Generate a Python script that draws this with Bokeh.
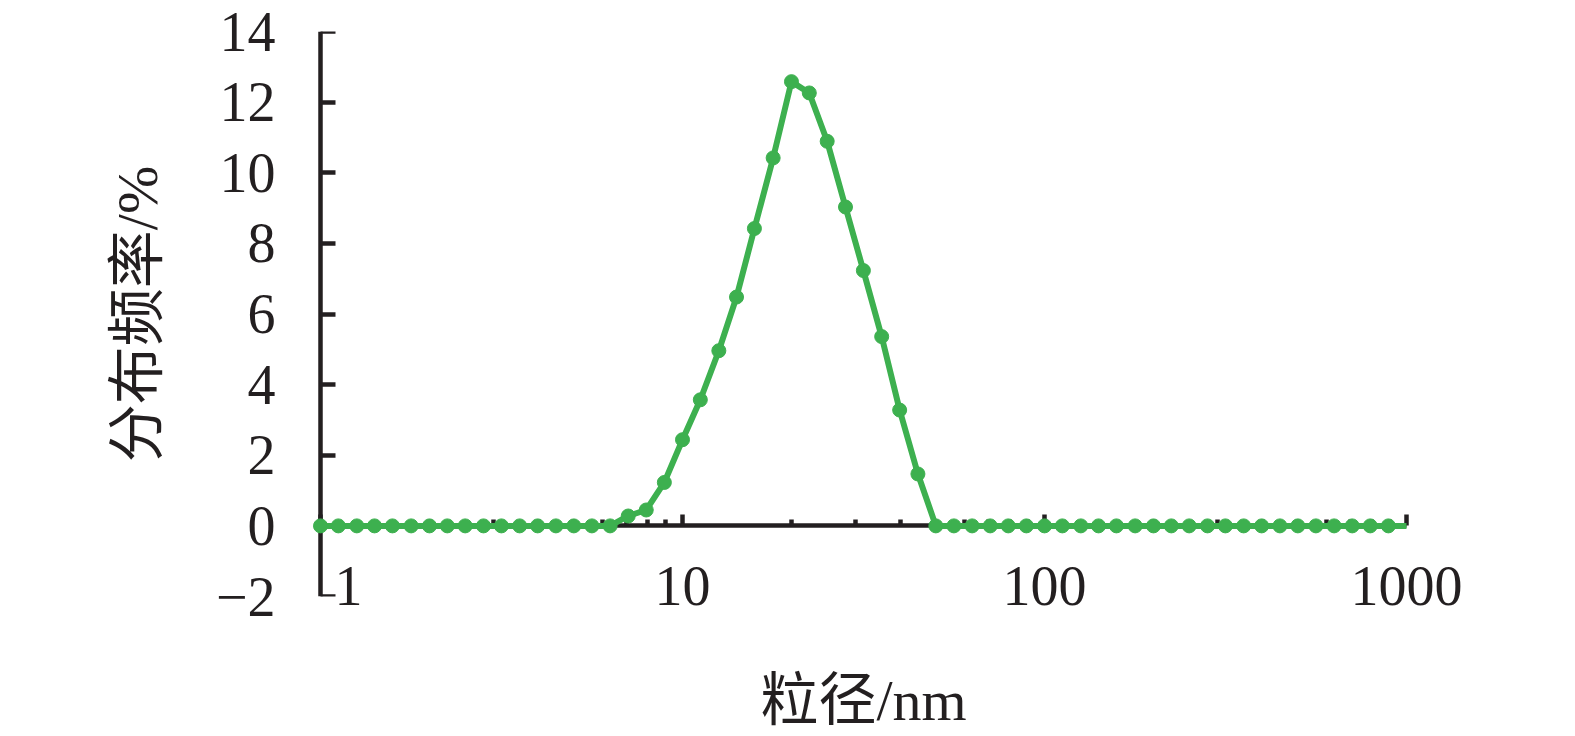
from bokeh.plotting import figure
from bokeh.models import LogAxis, LinearAxis, FixedTicker, Range1d, PrintfTickFormatter
from bokeh.embed import file_html
from bokeh.resources import INLINE

# particle size (nm), log-spaced bins
sizes = [1.00, 1.12, 1.26, 1.41, 1.58, 1.78, 2.00, 2.24, 2.51, 2.82,
         3.16, 3.55, 3.98, 4.47, 5.01, 5.62, 6.31, 7.08, 7.94, 8.91,
         10.0, 11.2, 12.6, 14.1, 15.8, 17.8, 20.0, 22.4, 25.1, 28.2,
         31.6, 35.5, 39.8, 44.7, 50.1, 56.2, 63.1, 70.8, 79.4, 89.1,
         100, 112, 126, 141, 158, 178, 200, 224, 251, 282,
         316, 355, 398, 447, 501, 562, 631, 708, 794, 891, 1000]
# distribution frequency (%)
freq = [0, 0, 0, 0, 0, 0, 0, 0, 0, 0,
        0, 0, 0, 0, 0, 0, 0, 0.28, 0.45, 1.23,
        2.44, 3.57, 4.96, 6.48, 8.42, 10.42, 12.58, 12.26, 10.89, 9.03,
        7.23, 5.36, 3.28, 1.47, 0, 0, 0, 0, 0, 0,
        0, 0, 0, 0, 0, 0, 0, 0, 0, 0,
        0, 0, 0, 0, 0, 0, 0, 0, 0, 0, 0]

x_major = [1, 10, 100, 1000]
x_minor = [m * 10 ** d for d in range(3) for m in range(2, 10)]
y_ticks = [-2, 0, 2, 4, 6, 8, 10, 12, 14]
x_title = "粒径/nm"
y_title = "分布频率/%"

GREEN = "#3DB04F"
INK = "#231F20"
FONT = "'Liberation Serif', 'Noto Sans CJK SC'"

p = figure(x_axis_type="log",
           x_range=Range1d(10 ** -0.0221, 10 ** 3.0221),
           y_range=Range1d(-2, 14),
           frame_width=1102, frame_height=565,
           min_border_left=312, min_border_right=150,
           min_border_top=31, min_border_bottom=132,
           output_backend="svg", toolbar_location=None,
           background_fill_color="white", border_fill_color="white",
           outline_line_color=None)
p.xgrid.visible = False
p.ygrid.visible = False

# labels-only bottom axis
xa = p.xaxis[0]
xa.ticker = FixedTicker(ticks=x_major)
xa.formatter = PrintfTickFormatter(format="%d")
xa.major_label_overrides = {1: "\u2002\u20021"}
xa.axis_line_color = None
xa.major_tick_line_color = None
xa.minor_tick_line_color = None
xa.major_tick_out = 0
xa.major_tick_in = 0
xa.major_label_standoff = -42
xa.major_label_text_font = FONT
xa.major_label_text_font_size = "56px"
xa.major_label_text_color = INK
xa.axis_label = x_title
xa.axis_label_text_font = FONT
xa.axis_label_text_font_size = "58px"
xa.axis_label_text_font_style = "normal"
xa.axis_label_text_color = INK
xa.axis_label_standoff = 48

# x axis line drawn at y = 0
x0 = LogAxis(fixed_location=0, bounds=(1, 1000),
             ticker=FixedTicker(ticks=x_major, minor_ticks=x_minor))
x0.axis_line_color = INK
x0.axis_line_width = 4.5
x0.major_tick_line_color = INK
x0.major_tick_line_width = 4.5
x0.major_tick_in = 11
x0.major_tick_out = 0
x0.minor_tick_line_color = INK
x0.minor_tick_line_width = 4.5
x0.minor_tick_in = 6
x0.minor_tick_out = 0
x0.major_label_text_font_size = "2px"
x0.major_label_text_alpha = 0
x0.major_label_standoff = 0
x0.level = "underlay"
p.add_layout(x0, "below")

# labels-only left axis
ya = p.yaxis[0]
ya.ticker = FixedTicker(ticks=y_ticks)
ya.major_label_overrides = {-2: "\u22122"}
ya.axis_line_color = None
ya.major_tick_line_color = None
ya.minor_tick_line_color = None
ya.major_tick_in = 0
ya.major_tick_out = 0
ya.major_label_standoff = 37
ya.major_label_text_font = FONT
ya.major_label_text_font_size = "56px"
ya.major_label_text_color = INK
ya.axis_label = y_title
ya.axis_label_text_font = FONT
ya.axis_label_text_font_size = "58px"
ya.axis_label_text_font_style = "normal"
ya.axis_label_text_color = INK
ya.axis_label_standoff = 43

# y axis line drawn at x = 1
y0 = LinearAxis(fixed_location=1, bounds=(-2, 14),
                ticker=FixedTicker(ticks=y_ticks))
y0.axis_line_color = INK
y0.axis_line_width = 4.5
y0.major_tick_line_color = INK
y0.major_tick_line_width = 4.5
y0.major_tick_in = 15
y0.major_tick_out = 0
y0.minor_tick_line_color = None
y0.major_label_text_font_size = "2px"
y0.major_label_text_alpha = 0
y0.major_label_standoff = 0
y0.level = "underlay"
p.add_layout(y0, "left")

p.line(sizes, freq, line_width=6, line_color=GREEN, line_join="round")
p.scatter(sizes[:-1], freq[:-1], size=14, fill_color=GREEN, line_color=GREEN)

open("out.html", "w").write(file_html(p, INLINE))
